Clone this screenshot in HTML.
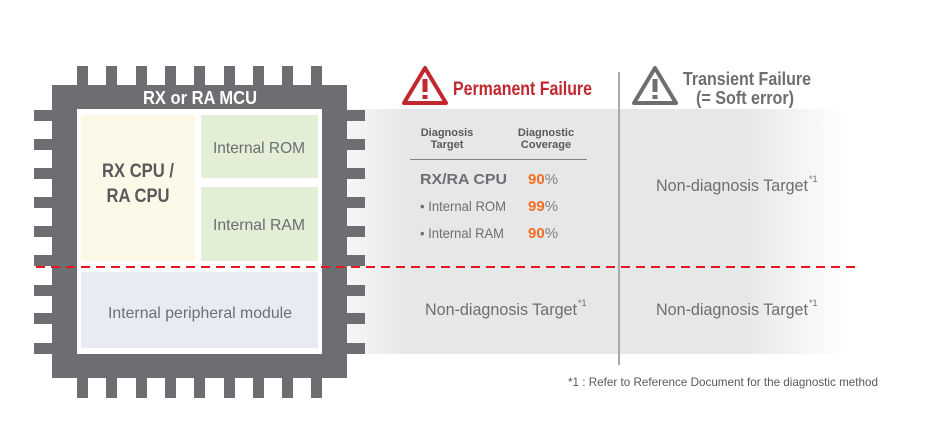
<!DOCTYPE html>
<html><head><meta charset="utf-8"><style>html,body{margin:0;padding:0;background:#fff}svg{display:block}text{font-family:"Liberation Sans Narrow","Liberation Sans",sans-serif}</style></head>
<body>
<svg width="927" height="435" viewBox="0 0 927 435" xmlns="http://www.w3.org/2000/svg">
<defs>
<linearGradient id="band" x1="347" y1="0" x2="845" y2="0" gradientUnits="userSpaceOnUse">
<stop offset="0" stop-color="#f6f6f6"/><stop offset="0.12" stop-color="#e6e7e8"/><stop offset="0.8" stop-color="#e6e7e8"/><stop offset="1" stop-color="#ffffff"/>
</linearGradient>
</defs>
<rect x="347" y="109" width="500" height="245" fill="url(#band)"/>
<line x1="619" y1="72" x2="619" y2="365" stroke="#a7a9ac" stroke-width="2"/>
<!-- pins -->
<g fill="#6d6e71">
<rect x="77" y="66" width="11" height="332"/><rect x="106" y="66" width="11" height="332"/><rect x="136" y="66" width="11" height="332"/><rect x="165" y="66" width="11" height="332"/><rect x="194" y="66" width="11" height="332"/><rect x="224" y="66" width="11" height="332"/><rect x="253" y="66" width="11" height="332"/><rect x="282" y="66" width="11" height="332"/><rect x="311" y="66" width="11" height="332"/>
<rect x="34" y="110" width="331" height="11"/><rect x="34" y="139" width="331" height="11"/><rect x="34" y="168" width="331" height="11"/><rect x="34" y="197" width="331" height="11"/><rect x="34" y="226" width="331" height="11"/><rect x="34" y="255" width="331" height="11"/><rect x="34" y="285" width="331" height="11"/><rect x="34" y="313" width="331" height="11"/><rect x="34" y="343" width="331" height="11"/>
<rect x="52" y="85" width="295" height="293"/>
</g>
<rect x="77" y="109" width="245" height="245" fill="#fff"/>
<rect x="81" y="115" width="114" height="146" fill="#fcf9e9"/>
<rect x="201" y="115" width="117" height="63" fill="#e2eed6"/>
<rect x="201" y="187" width="117" height="74" fill="#e2eed6"/>
<rect x="81" y="272" width="237" height="76" fill="#e8ecf2"/>
<text x="200" y="104" text-anchor="middle" font-size="18" font-weight="bold" fill="#fff" textLength="114" lengthAdjust="spacingAndGlyphs">RX or RA MCU</text>
<text x="138" y="177" text-anchor="middle" font-size="19" font-weight="bold" fill="#58595b" textLength="72" lengthAdjust="spacingAndGlyphs">RX CPU /</text>
<text x="138" y="202" text-anchor="middle" font-size="19" font-weight="bold" fill="#58595b" textLength="63" lengthAdjust="spacingAndGlyphs">RA CPU</text>
<text x="259" y="153" text-anchor="middle" font-size="16" fill="#6d6e71" textLength="92" lengthAdjust="spacingAndGlyphs">Internal ROM</text>
<text x="259" y="230" text-anchor="middle" font-size="16" fill="#6d6e71" textLength="92" lengthAdjust="spacingAndGlyphs">Internal RAM</text>
<text x="200" y="318" text-anchor="middle" font-size="16" fill="#6d6e71" textLength="184" lengthAdjust="spacingAndGlyphs">Internal peripheral module</text>
<line x1="36" y1="267" x2="859" y2="267" stroke="#e8171f" stroke-width="2" stroke-dasharray="9,6"/>
<!-- warning icons -->
<path d="M425 68 L446 103 L404 103 Z" fill="none" stroke="#c1272d" stroke-width="4" stroke-linejoin="round"/>
<rect x="422.5" y="79" width="5" height="13" fill="#c1272d"/><rect x="422.5" y="95" width="5" height="4" fill="#c1272d"/>
<path d="M655 68 L676 103 L634 103 Z" fill="none" stroke="#6d6e71" stroke-width="4" stroke-linejoin="round"/>
<rect x="652.5" y="79" width="5" height="13" fill="#6d6e71"/><rect x="652.5" y="95" width="5" height="4" fill="#6d6e71"/>
<text x="453" y="95" font-size="19" font-weight="bold" fill="#c1272d" textLength="139" lengthAdjust="spacingAndGlyphs">Permanent Failure</text>
<text x="747" y="85" text-anchor="middle" font-size="18" font-weight="bold" fill="#6d6e71" textLength="128" lengthAdjust="spacingAndGlyphs">Transient Failure</text>
<text x="745" y="104" text-anchor="middle" font-size="18" font-weight="bold" fill="#6d6e71" textLength="98" lengthAdjust="spacingAndGlyphs">(= Soft error)</text>
<text x="447" y="136" text-anchor="middle" font-size="11" font-weight="bold" fill="#58595b">Diagnosis</text>
<text x="447" y="148" text-anchor="middle" font-size="11" font-weight="bold" fill="#58595b">Target</text>
<text x="546" y="136" text-anchor="middle" font-size="11" font-weight="bold" fill="#58595b">Diagnostic</text>
<text x="546" y="148" text-anchor="middle" font-size="11" font-weight="bold" fill="#58595b">Coverage</text>
<line x1="410" y1="159.5" x2="587" y2="159.5" stroke="#808285" stroke-width="1"/>
<text x="420" y="184" font-size="15" font-weight="bold" fill="#6d6e71" textLength="87" lengthAdjust="spacingAndGlyphs">RX/RA CPU</text>
<text x="420" y="211" font-size="14" fill="#6d6e71" textLength="86" lengthAdjust="spacingAndGlyphs">• Internal ROM</text>
<text x="420" y="238" font-size="14" fill="#6d6e71" textLength="84" lengthAdjust="spacingAndGlyphs">• Internal RAM</text>
<g font-size="15"><text x="528" y="184"><tspan font-weight="bold" fill="#f26f21">90</tspan><tspan fill="#808285">%</tspan></text>
<text x="528" y="211"><tspan font-weight="bold" fill="#f26f21">99</tspan><tspan fill="#808285">%</tspan></text>
<text x="528" y="238"><tspan font-weight="bold" fill="#f26f21">90</tspan><tspan fill="#808285">%</tspan></text></g>
<g font-size="17" fill="#6d6e71">
<text x="656" y="191" textLength="152" lengthAdjust="spacingAndGlyphs">Non-diagnosis Target</text><text x="809" y="182" font-size="9">*1</text>
<text x="425" y="315" textLength="152" lengthAdjust="spacingAndGlyphs">Non-diagnosis Target</text><text x="578" y="306" font-size="9">*1</text>
<text x="656" y="315" textLength="152" lengthAdjust="spacingAndGlyphs">Non-diagnosis Target</text><text x="809" y="306" font-size="9">*1</text>
</g>
<text x="568" y="386" font-size="12" fill="#58595b" textLength="310" lengthAdjust="spacingAndGlyphs">*1 : Refer to Reference Document for the diagnostic method</text>
</svg>
</body></html>
